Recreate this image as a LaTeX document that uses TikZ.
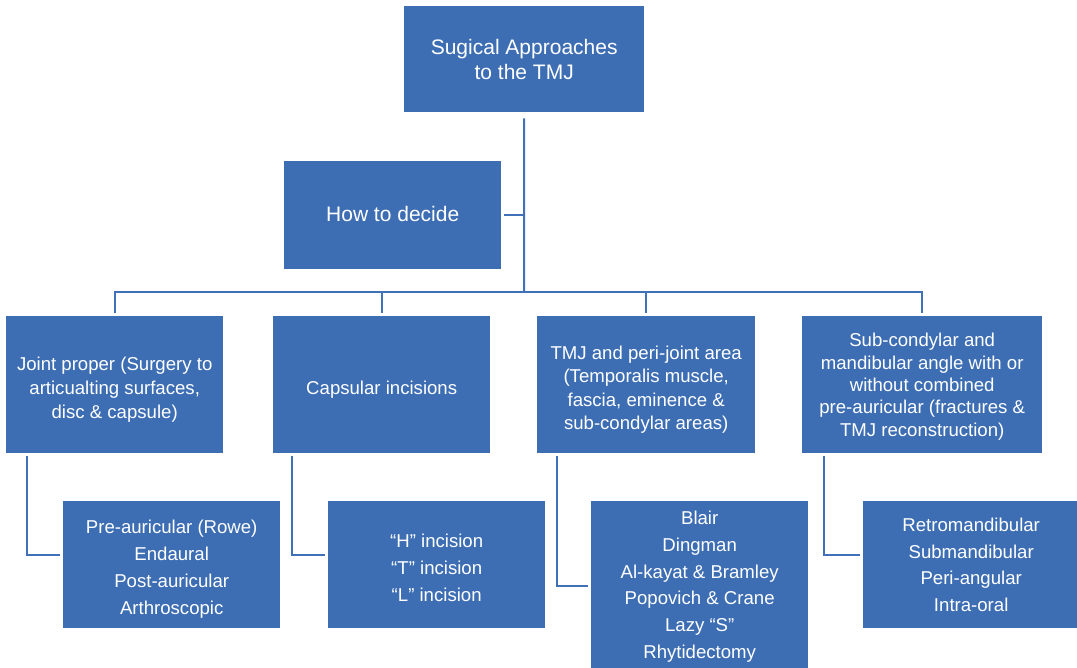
\documentclass[tikz,border=0pt]{standalone}
\usepackage{fontspec}
\setmainfont{Liberation Sans}
\definecolor{boxblue}{RGB}{61,110,180}
\definecolor{lineblue}{RGB}{64,113,184}
\begin{document}
\begin{tikzpicture}[x=1pt,y=-1pt,
  box/.style={anchor=north west, fill=boxblue, draw=none, inner sep=0pt},
  txt/.style={text=white, align=center, inner sep=0pt, font=\fontsize{18.6}{#1}\selectfont},
  bigtxt/.style={text=white, align=center, inner sep=0pt, font=\fontsize{21}{25}\selectfont},
  conn/.style={draw=lineblue, line width=2pt, shorten <=3pt, shorten >=3pt},
]
\useasboundingbox (0,0) rectangle (1077,668);

% boxes
\node[box, minimum width=240pt, minimum height=106pt] (top) at (404,6) {};
\node[box, minimum width=217pt, minimum height=108pt] (how) at (284,161) {};
\node[box, minimum width=217pt, minimum height=137pt] (b1) at (6,316) {};
\node[box, minimum width=217pt, minimum height=137pt] (b2) at (273,316) {};
\node[box, minimum width=218pt, minimum height=137pt] (b3) at (537,316) {};
\node[box, minimum width=240pt, minimum height=137pt] (b4) at (802,316) {};
\node[box, minimum width=217pt, minimum height=127pt] (c1) at (63,501) {};
\node[box, minimum width=217pt, minimum height=127pt] (c2) at (328,501) {};
\node[box, minimum width=217pt, minimum height=169pt] (c3) at (591,501) {};
\node[box, minimum width=216pt, minimum height=127pt] (c4) at (863,501) {};

% box texts
\node[bigtxt] (topt) at (top.center) {Sugical Approaches\\to the TMJ};
\node[bigtxt] (howt) at ([yshift=1pt]how.center) {How to decide};
\node[txt=24] (b1t) at ([yshift=-5pt]b1.center)
  {Joint proper (Surgery to\\articualting surfaces,\\disc \& capsule)};
\node[txt=24] (b2t) at ([yshift=-5pt]b2.center) {Capsular incisions};
\node[txt=23.4] (b3t) at ([yshift=-5pt]b3.center)
  {TMJ and peri-joint area\\(Temporalis muscle,\\fascia, eminence \&\\sub-condylar areas)};
\node[txt=22.4] (b4t) at ([yshift=-2pt]b4.center)
  {Sub-condylar and\\mandibular angle with or\\without combined\\pre-auricular (fractures \&\\TMJ reconstruction)};
\node[txt=27] (c1t) at ([yshift=-4pt]c1.center)
  {Pre-auricular (Rowe)\\Endaural\\Post-auricular\\Arthroscopic};
\node[txt=27] (c2t) at ([yshift=-3pt]c2.center)
  {“H” incision\\“T” incision\\“L” incision};
\node[txt=26.7] (c3t) at ([yshift=-1pt]c3.center)
  {Blair\\Dingman\\Al-kayat \& Bramley\\Popovich \& Crane\\Lazy “S”\\Rhytidectomy};
\node[txt=26.7] (c4t) at (c4.center)
  {Retromandibular\\Submandibular\\Peri-angular\\Intra-oral};

% trunk and bus
\coordinate (bus) at (524,292);
\draw[conn, shorten <=6pt, shorten >=0pt] (top.south) -- (bus);
\draw[conn, shorten >=0pt] (how.east) -- (how.east -| bus);
\draw[conn, line join=miter] (b1.north) |- (bus) -| (b4.north);
\draw[conn, shorten <=0pt] (bus -| b2.north) -- (b2.north);
\draw[conn, shorten <=0pt] (bus -| b3.north) -- (b3.north);

% branches to the lists
\draw[conn, line join=miter] ([xshift=21pt]b1.south west) |- ([yshift=9.5pt]c1.west);
\draw[conn, line join=miter] ([xshift=19pt]b2.south west) |- ([yshift=9.5pt]c2.west);
\draw[conn, line join=miter] ([xshift=20pt]b3.south west) |- ([yshift=-0.5pt]c3.west);
\draw[conn, line join=miter] ([xshift=22pt]b4.south west) |- ([yshift=9.5pt]c4.west);
\end{tikzpicture}
\end{document}
